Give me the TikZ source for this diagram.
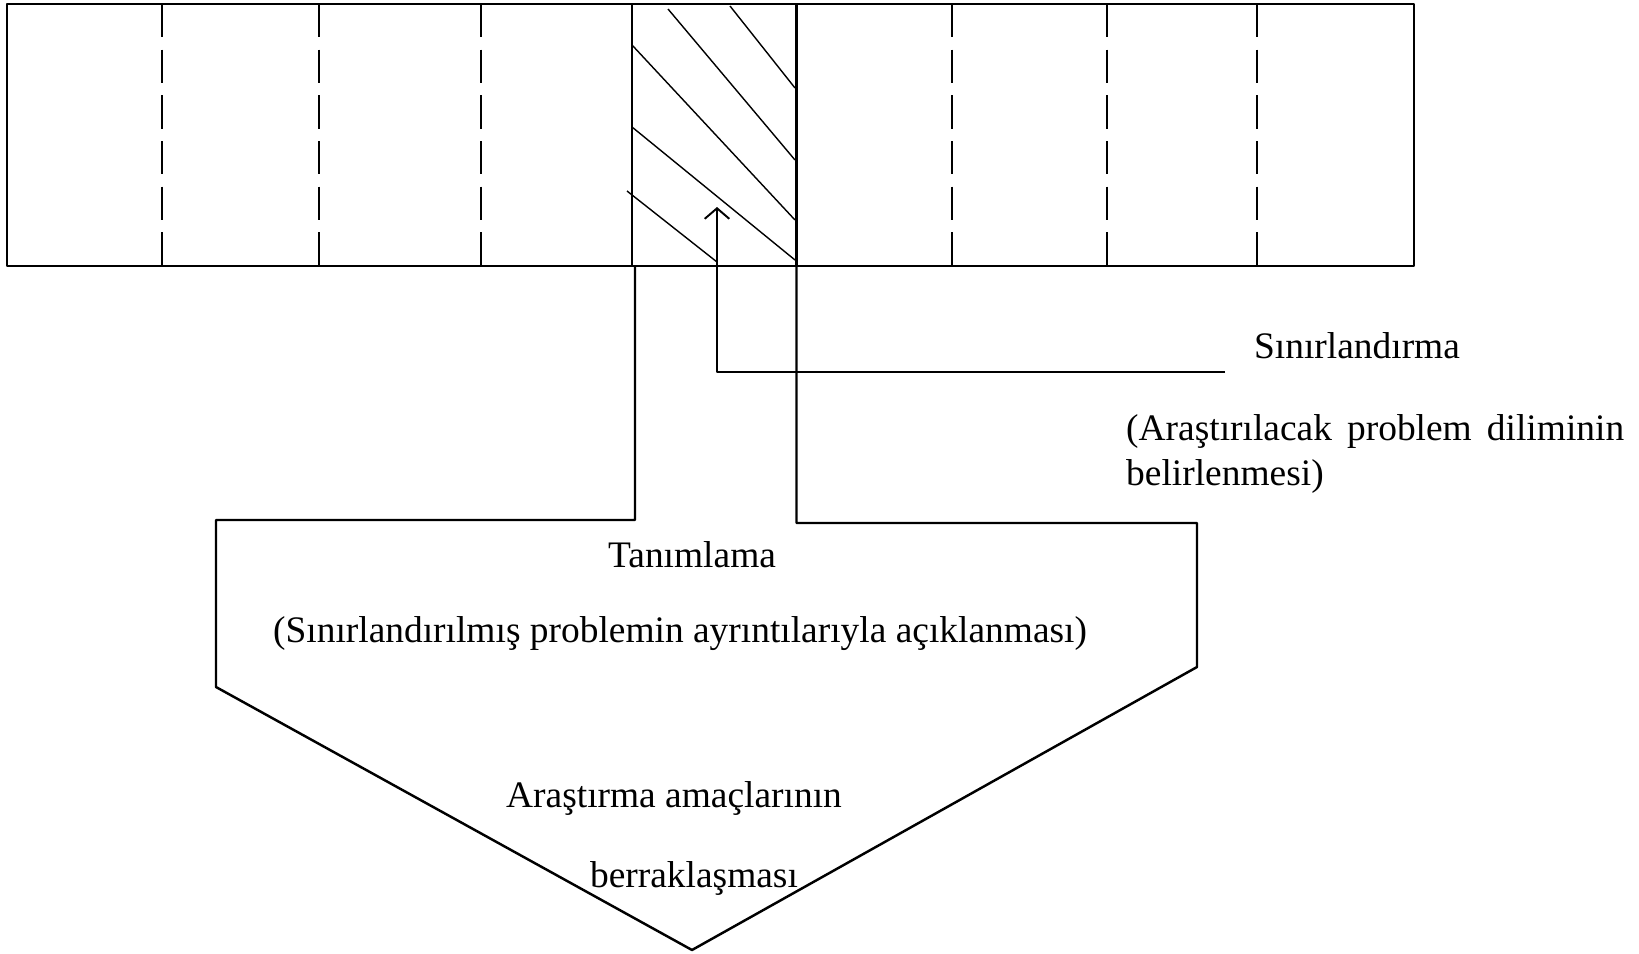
\documentclass[tikz,border=0pt]{standalone}
\usepackage{fontspec}
\setmainfont{Liberation Serif}
\usetikzlibrary{arrows.meta}

\begin{document}
\begin{tikzpicture}[x=0.02cm, y=-0.02cm, line width=1.4pt, line join=round,
    font=\fontsize{21.3}{26}\selectfont, >={Straight Barb[length=6pt,width=14pt]},
    divider/.style={dash pattern=on 19pt off 7pt},
    hatch/.style={line width=0.8pt},
    txt/.style={inner sep=0pt, anchor=base}]
  \useasboundingbox (0,0) rectangle (1639,953);
  \path
    (7,4) coordinate (TL)
    (1414,266) coordinate (BR)
    (632,4) coordinate (CellA)
    (796.5,4) coordinate (CellB)
    (717,207) coordinate (ArrowTip)
    (1225,372) coordinate (LineEnd)
    ;
  \draw (TL) rectangle (BR);
  \foreach \x in {162,319,481,952,1107,1257}
    {\draw[divider] (\x,4) -- (\x,266);}
  \draw (CellA) -- (632,266) (CellB) -- (796.5,266);
  % hatched slice
  \foreach \a/\b/\c/\d in {730/6/795/88, 668/9/795/160, 632/45/795/220, 632/127/795/260, 627/191/717/262}
    {\draw[hatch] (\a,\b) -- (\c,\d);}
  % funnel
  \draw (635,266) -- (635,520) -- (216,520) -- (216,687) -- (692,950)
    -- (1197,667) -- (1197,523) -- (796.5,523) -- (796.5,266);
  \draw[->, line width=1.1pt] (LineEnd) -| (ArrowTip);
  \node[txt] (sinir) at (1357,358) {Sınırlandırma};
  \node[inner sep=0pt, anchor=base west, text width=9.96cm, align=left] (sinirAck) at (1125,440)
    {\makebox[9.96cm][s]{(Araştırılacak\hfill problem\hfill diliminin}\\ belirlenmesi)};
  \node[txt] (tanim) at (692,567) {Tanımlama};
  \node[txt] (tanimAck) at (680,642) {(Sınırlandırılmış problemin ayrıntılarıyla açıklanması)};
  \node[txt] (amac) at (674,807) {Araştırma amaçlarının};
  \node[txt] (berrak) at (694,887) {berraklaşması};
\end{tikzpicture}
\end{document}
